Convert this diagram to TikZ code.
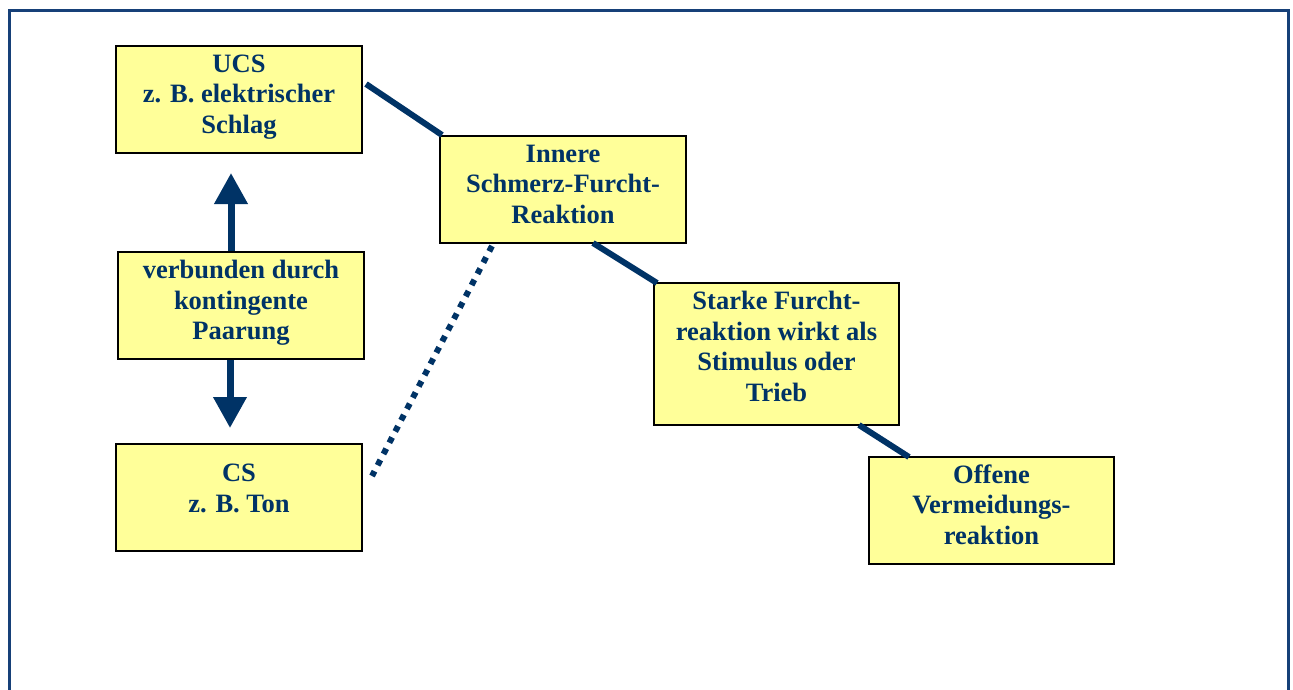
\documentclass[tikz,border=0pt]{standalone}
\usepackage{fontspec}
\setmainfont{Liberation Serif}
\usetikzlibrary{arrows.meta,calc}
\definecolor{navy}{RGB}{0,51,102}
\definecolor{framec}{RGB}{22,64,120}
\definecolor{boxfill}{RGB}{255,255,153}
\newcommand{\boxtxt}[2][-3.5pt]{\raisebox{#1}[0pt][0pt]{\begin{tabular}{@{}c@{}}#2\end{tabular}}}
\begin{document}
\begin{tikzpicture}[x=1pt,y=-1pt,
  box/.style={draw=black,line width=2pt,fill=boxfill,minimum width=246pt,minimum height=107pt,
    inner sep=0pt,font=\fontsize{26.5}{30.5}\selectfont\bfseries,text=navy},
  conn/.style={draw=navy,line width=6pt},
  dotconn/.style={draw=navy,line width=6pt,dash pattern=on 6pt off 6.7pt},
  bigarrow/.style={draw=navy,line width=7pt,-{Triangle[width=32pt,length=31pt]}}]
\useasboundingbox (0,0) rectangle (1293,689);
\clip (0,0) rectangle (1293,689);
\fill[white] (0,0) rectangle (1293,689);
\draw[framec,line width=3pt] (9,10.5) rectangle (1288.7,720);

\node[box] (ucs) at (239,99.5) {\boxtxt{UCS\\z. B. elektrischer\\Schlag}};
\node[box] (verb) at (241,305) {\boxtxt[-4.5pt]{verbunden durch\\kontingente\\Paarung}};
\node[box] (cs) at (239,497.5) {\boxtxt[0.5pt]{CS\\z. B. Ton}};
\node[box] (inn) at (563,189.5) {\boxtxt{Innere\\Schmerz-Furcht-\\Reaktion}};
\node[box,minimum width=245pt,minimum height=142pt] (sta) at (776.5,354) {\boxtxt[-1.5pt]{Starke Furcht-\\reaktion wirkt als\\Stimulus oder\\Trieb}};
\node[box,minimum width=245pt] (off) at (991.5,510.5) {\boxtxt{Offene\\Vermeidungs-\\reaktion}};

% double-ended arrow from the "verbunden" box
\coordinate (upstart) at ($(verb.north)+(-10,0)$);
\coordinate (uptip) at (231,173);
\coordinate (dnstart) at ($(verb.south)+(-11,0)$);
\coordinate (dntip) at (230,428);
\draw[bigarrow] (upstart) -- (uptip);
\draw[bigarrow] (dnstart) -- (dntip);

% connectors
\coordinate (c1s) at (366,84);
\coordinate (c1e) at (442,135);
\draw[conn] (c1s) -- (c1e);
\coordinate (c2s) at (593,243);
\coordinate (c2e) at (657,283);
\draw[conn] (c2s) -- (c2e);
\coordinate (c3s) at (859,425);
\coordinate (c3e) at (909,457);
\draw[conn] (c3s) -- (c3e);
\coordinate (d1s) at (492,246);
\coordinate (d1e) at (372,476);
\draw[dotconn] (d1s) -- (d1e);
\end{tikzpicture}
\end{document}
